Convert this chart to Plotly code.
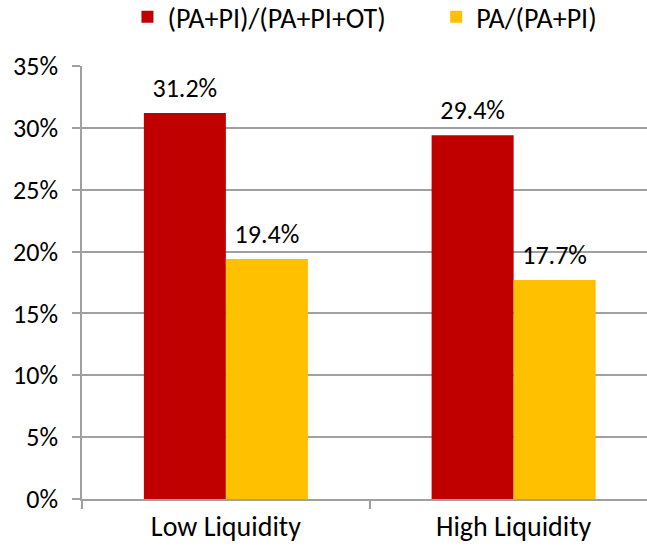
import plotly.graph_objects as go

categories = ["Low Liquidity", "High Liquidity"]
series_names = ["(PA+PI)/(PA+PI+OT)", "PA/(PA+PI)"]
ratio_all = [0.312, 0.294]
ratio_pa = [0.194, 0.177]
colors = ["#C00000", "#FFC000"]
y_ticks = [0, 0.05, 0.10, 0.15, 0.20, 0.25, 0.30, 0.35]

FONT = "Carlito, Calibri, Lato, sans-serif"
xpos = list(range(len(categories)))

fig = go.Figure()
groups = ["g1", "g2"]
legends = ["legend", "legend2"]
for name, vals, col, g, lg in zip(series_names, [ratio_all, ratio_pa], colors, groups, legends):
    fig.add_trace(go.Bar(
        x=xpos, y=vals, name=name, marker=dict(color=col, line=dict(width=0)),
        offsetgroup=g, legend=lg, hoverinfo="skip", showlegend=True,
    ))
for vals, g in zip([ratio_all, ratio_pa], groups):
    fig.add_trace(go.Scatter(
        x=xpos, y=vals, mode="markers+text", offsetgroup=g,
        marker=dict(size=14, opacity=0, color="white"),
        text=[f"{v*100:.1f}%" for v in vals], textposition="top center",
        textfont=dict(size=26, color="#000000", family=FONT),
        showlegend=False, cliponaxis=False, hoverinfo="skip",
    ))

legend_common = dict(orientation="h", xanchor="left", yanchor="top", yref="paper",
                     y=1 + 74 / 433, font=dict(size=28, family=FONT), itemwidth=30,
                     bgcolor="rgba(0,0,0,0)", visible=True)
fig.update_layout(
    width=647, height=554,
    margin=dict(l=81.5, r=0, t=66, b=55, autoexpand=False),
    paper_bgcolor="white", plot_bgcolor="white",
    barmode="group", bargap=0.43, bargroupgap=0,
    scattermode="group", scattergap=0.43,
    font=dict(family=FONT, size=26, color="#000000"),
    showlegend=True,
    legend=dict(legend_common, x=(137 - 81.5 - 10) / 565.5),
    legend2=dict(legend_common, x=(446 - 81.5 - 10) / 565.5),
)
fig.update_xaxes(
    range=[-0.5, -0.5 + 565.5 / 288],
    tickvals=xpos, ticktext=categories, ticks="", ticklabelstandoff=2,
    showline=True, linecolor="#A0A0A0", linewidth=1.5,
    showgrid=False, zeroline=False, automargin=False,
    tickfont=dict(size=28, family=FONT),
    minor=dict(tickvals=[-0.5, 0.5, 1.5], ticks="outside", ticklen=8,
               tickcolor="#A0A0A0", tickwidth=1.5, showgrid=False),
)
fig.update_yaxes(
    range=[0, 0.35], tickvals=y_ticks, tickformat=".0%",
    ticks="outside", ticklen=8, tickcolor="#A0A0A0", tickwidth=1.5, ticklabelstandoff=9,
    showline=True, linecolor="#A0A0A0", linewidth=1.5,
    showgrid=True, gridcolor="#A0A0A0", gridwidth=1.5,
    zeroline=False, automargin=False, tickfont=dict(size=26, family=FONT),
)
fig.write_html("out.html", config={"displayModeBar": False},
               post_script="document.body.style.margin='0';document.body.style.overflow='hidden';")
